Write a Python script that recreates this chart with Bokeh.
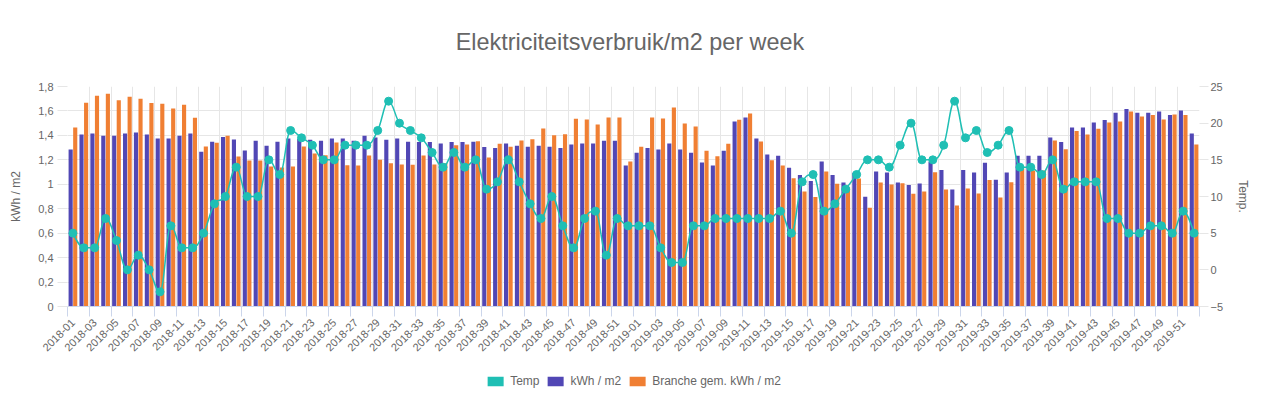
import math
from bokeh.plotting import figure
from bokeh.layouts import column
from bokeh.models import (ColumnDataSource, Range1d, LinearAxis, FixedTicker, Legend,
                          LegendItem, CustomJSTickFormatter, Label)
from bokeh.transform import dodge
from bokeh.embed import file_html
from bokeh.resources import INLINE

weeks = [f"{y}-{w:02d}" for y in (2018, 2019) for w in range(1, 53)]

kwh = [
    1.285, 1.407, 1.416, 1.397, 1.397, 1.416, 1.424, 1.407, 1.375, 1.375, 1.397, 1.416, 1.266,
    1.348, 1.386, 1.367, 1.277, 1.356, 1.315, 1.348, 1.375, 1.370, 1.364, 1.356, 1.375, 1.375,
    1.356, 1.397, 1.383, 1.364, 1.375, 1.348, 1.345, 1.345, 1.334, 1.345, 1.345, 1.348, 1.304,
    1.296, 1.334, 1.315, 1.307, 1.315, 1.307, 1.296, 1.326, 1.334, 1.334, 1.356, 1.356, 1.154,
    1.257, 1.296, 1.285, 1.334, 1.285, 1.257, 1.178, 1.154, 1.274, 1.514, 1.547, 1.375, 1.244,
    1.233, 1.135, 1.075, 1.026, 1.187, 1.075, 1.015, 1.094, 0.897, 1.105, 1.097, 1.015, 0.995,
    1.006, 1.187, 1.116, 0.957, 1.116, 1.097, 1.176, 1.037, 1.097, 1.233, 1.233, 1.233, 1.383,
    1.345, 1.465, 1.465, 1.506, 1.525, 1.585, 1.615, 1.585, 1.585, 1.596, 1.566, 1.604, 1.416,
]

branche = [
    1.465, 1.667, 1.724, 1.740, 1.688, 1.716, 1.700, 1.664, 1.659, 1.620, 1.650, 1.544, 1.309,
    1.340, 1.397, 1.227, 1.195, 1.195, 1.146, 1.137, 1.146, 1.309, 1.252, 1.238, 1.342, 1.156,
    1.153, 1.236, 1.200, 1.173, 1.162, 1.159, 1.236, 1.162, 1.173, 1.320, 1.326, 1.353, 1.219,
    1.331, 1.307, 1.358, 1.369, 1.457, 1.402, 1.410, 1.536, 1.530, 1.489, 1.547, 1.547, 1.187,
    1.307, 1.547, 1.539, 1.628, 1.497, 1.473, 1.274, 1.230, 1.331, 1.528, 1.579, 1.350, 1.197,
    1.154, 1.050, 0.941, 0.895, 1.105, 1.004, 0.976, 1.047, 0.807, 1.015, 0.998, 1.009, 0.922,
    0.941, 1.099, 0.957, 0.826, 0.966, 0.925, 1.034, 0.892, 1.017, 1.130, 1.113, 1.113, 1.358,
    1.287, 1.435, 1.407, 1.454, 1.506, 1.514, 1.596, 1.555, 1.566, 1.530, 1.571, 1.566, 1.326,
]

temp = [
    5, 3, 3, 7, 4, 0, 2, 0, -3, 6, 3, 3, 5, 9, 10, 14, 10, 10, 15, 13, 19, 18, 17, 15, 15, 17,
    17, 17, 19, 23, 20, 19, 18, 16, 14, 16, 14, 15, 11, 12, 15, 12, 9, 7, 10, 6, 3, 7, 8, 2, 7, 6,
    6, 6, 3, 1, 1, 6, 6, 7, 7, 7, 7, 7, 7, 8, 5, 12, 13, 8, 9, 11, 13, 15, 15, 14, 17, 20,
    15, 15, 17, 23, 18, 19, 16, 17, 19, 14, 14, 13, 15, 11, 12, 12, 12, 7, 7, 5, 5, 6, 6, 5, 8, 5,
]

kwh_ticks = [0, 0.2, 0.4, 0.6, 0.8, 1.0, 1.2, 1.4, 1.6, 1.8]
temp_ticks = [-5, 0, 5, 10, 15, 20, 25]

TEAL = "#1fbfb4"
BLUE = "#5147b5"
ORANGE = "#f07f33"
GRID = "#e6e6e6"
TXT = "#666666"
FONT = "Liberation Sans"
W = 1262

idx = list(range(len(weeks)))
src = ColumnDataSource(dict(x=idx, kwh=kwh, branche=branche, temp=temp))


def spline_controls(xs, ys, smoothing=1.5):
    """Spline-style curve control points (smoothed line through the data points)."""
    n = len(xs)
    left, right = [None] * n, [None] * n
    for i in range(n):
        px, py = xs[i], ys[i]
        if i == 0 or i == n - 1:
            left[i] = (px, py)
            right[i] = (px, py)
            continue
        lx, ly = xs[i - 1], ys[i - 1]
        nx, ny = xs[i + 1], ys[i + 1]
        lcx = (smoothing * px + lx) / (smoothing + 1)
        lcy = (smoothing * py + ly) / (smoothing + 1)
        rcx = (smoothing * px + nx) / (smoothing + 1)
        rcy = (smoothing * py + ny) / (smoothing + 1)
        if rcx != lcx:
            corr = ((rcy - lcy) * (rcx - px)) / (rcx - lcx) + py - rcy
            lcy += corr
            rcy += corr
        if lcy > max(ly, py):
            lcy = max(ly, py)
            rcy = 2 * py - lcy
        elif lcy < min(ly, py):
            lcy = min(ly, py)
            rcy = 2 * py - lcy
        if rcy > max(py, ny):
            rcy = max(py, ny)
            lcy = 2 * py - rcy
        elif rcy < min(py, ny):
            rcy = min(py, ny)
            lcy = 2 * py - rcy
        left[i] = (lcx, lcy)
        right[i] = (rcx, rcy)
    segs = dict(x0=[], y0=[], x1=[], y1=[], cx0=[], cy0=[], cx1=[], cy1=[])
    for i in range(1, n):
        segs["x0"].append(xs[i - 1]); segs["y0"].append(ys[i - 1])
        segs["x1"].append(xs[i]); segs["y1"].append(ys[i])
        segs["cx0"].append(right[i - 1][0]); segs["cy0"].append(right[i - 1][1])
        segs["cx1"].append(left[i][0]); segs["cy1"].append(left[i][1])
    return segs


curve_src = ColumnDataSource(spline_controls(idx, temp))

# ---- title strip ----
TH = 70
tf = figure(width=W, height=TH, x_range=Range1d(0, W), y_range=Range1d(0, TH),
            output_backend="svg", toolbar_location=None, min_border=0,
            outline_line_color=None, background_fill_color="white", border_fill_color="white")
tf.axis.visible = False
tf.grid.visible = False
tf.add_layout(Label(x=627, y=TH - 41, text="Elektriciteitsverbruik/m2 per week",
                    text_align="center", text_baseline="middle", text_font=FONT,
                    text_font_size="23.4px", text_color="#666666"))

# ---- main chart ----
p = figure(width=W, height=294, x_range=Range1d(-0.5, len(weeks) - 0.5),
           y_range=Range1d(0, 1.8), output_backend="svg", toolbar_location=None,
           min_border_left=67, min_border_right=63, min_border_top=16, min_border_bottom=58,
           outline_line_color=None, background_fill_color="white", border_fill_color="white")

p.extra_y_ranges = {"temp": Range1d(-5, 25)}

# bars
r_kwh = p.vbar(x=dodge("x", -0.21), top="kwh", width=0.38, source=src,
               fill_color=BLUE, line_color=None)
r_br = p.vbar(x=dodge("x", 0.21), top="branche", width=0.38, source=src,
              fill_color=ORANGE, line_color=None)

# temperature spline + markers
p.bezier(x0="x0", y0="y0", x1="x1", y1="y1", cx0="cx0", cy0="cy0", cx1="cx1", cy1="cy1",
         source=curve_src, y_range_name="temp", line_color=TEAL, line_width=1.5)
p.scatter(x="x", y="temp", source=src, y_range_name="temp", size=8,
          fill_color=TEAL, line_color=TEAL)

# x axis
xax = p.xaxis[0]
xax.ticker = FixedTicker(ticks=list(range(0, len(weeks), 2)),
                         minor_ticks=[i - 0.5 for i in range(0, len(weeks) + 2, 2)])
xax.major_label_overrides = {i: weeks[i] for i in range(0, len(weeks), 2)}
xax.major_label_orientation = math.pi / 4
xax.major_tick_line_color = None
xax.minor_tick_line_color = "#ccd6eb"
xax.minor_tick_out = 10
xax.minor_tick_in = 0
xax.axis_line_color = "#ccd6eb"
xax.major_label_text_font = FONT
xax.major_label_text_font_size = "11px"
xax.major_label_text_color = TXT
xax.major_label_standoff = 4

p.xgrid.grid_line_color = None
p.xgrid.minor_grid_line_color = GRID
p.ygrid.grid_line_color = GRID
p.ygrid.ticker = FixedTicker(ticks=kwh_ticks)

# left axis
yax = p.yaxis[0]
yax.ticker = FixedTicker(ticks=kwh_ticks)
yax.formatter = CustomJSTickFormatter(code="return String(Math.round(tick*10)/10).replace('.', ',');")
yax.minor_tick_line_color = None
yax.major_tick_line_color = GRID
yax.major_tick_out = 10
yax.major_tick_in = 0
yax.axis_line_color = None
yax.axis_label = "kWh / m2"
yax.axis_label_text_font = FONT
yax.axis_label_text_font_size = "12px"
yax.axis_label_text_font_style = "normal"
yax.axis_label_text_color = TXT
yax.axis_label_standoff = 12
yax.major_label_text_font = FONT
yax.major_label_text_font_size = "11px"
yax.major_label_text_color = TXT
yax.major_label_standoff = 4

# right axis
rax = LinearAxis(y_range_name="temp", ticker=FixedTicker(ticks=temp_ticks))
rax.minor_tick_line_color = None
rax.major_tick_line_color = GRID
rax.major_tick_out = 9
rax.major_tick_in = 0
rax.axis_line_color = None
rax.axis_label = "Temp."
rax.axis_label_text_font = FONT
rax.axis_label_text_font_size = "12px"
rax.axis_label_text_font_style = "normal"
rax.axis_label_text_color = TXT
rax.axis_label_standoff = 10
rax.major_label_text_font = FONT
rax.major_label_text_font_size = "11px"
rax.major_label_text_color = TXT
rax.major_label_standoff = 2
p.add_layout(rax, "right")

# ---- legend strip (keys use the same series, kept outside the visible range) ----
lf = figure(width=W, height=34, x_range=Range1d(-0.5, len(weeks) - 0.5),
            y_range=Range1d(100, 101), output_backend="svg", toolbar_location=None,
            min_border=0, outline_line_color=None, background_fill_color="white",
            border_fill_color="white")
lf.axis.visible = False
lf.grid.visible = False
k_temp = lf.vbar(x="x", top="temp", width=0.4, source=src, fill_color=TEAL, line_color=None)
k_kwh = lf.vbar(x="x", top="kwh", width=0.4, source=src, fill_color=BLUE, line_color=None)
k_br = lf.vbar(x="x", top="branche", width=0.4, source=src, fill_color=ORANGE, line_color=None)

legend = Legend(items=[LegendItem(label="Temp", renderers=[k_temp]),
                       LegendItem(label="kWh / m2", renderers=[k_kwh]),
                       LegendItem(label="Branche gem. kWh / m2", renderers=[k_br])],
                orientation="horizontal", location="center",
                border_line_color=None, background_fill_alpha=0,
                label_text_font=FONT, label_text_font_size="12px", label_text_color=TXT,
                glyph_width=20, glyph_height=12, label_standoff=5, spacing=6,
                padding=2, margin=0)
lf.add_layout(legend, "center")

open("out.html", "w").write(file_html(column(tf, p, lf), INLINE))
